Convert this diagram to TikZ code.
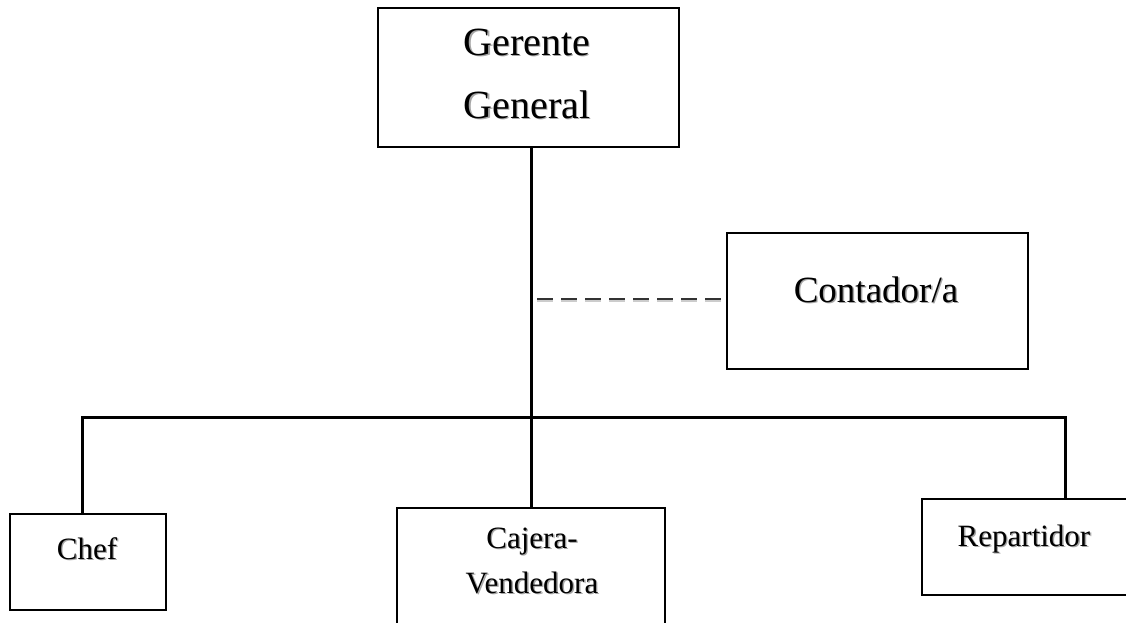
\documentclass[tikz,border=0pt]{standalone}
\usepackage{fontspec}
\setmainfont{Liberation Serif}
% text with a soft grey drop shadow
\newcommand\shtxt[1]{\makebox[0pt][l]{\hspace{1.3pt}\raisebox{-1.3pt}{\color{black!35}#1}}#1}
\begin{document}
\begin{tikzpicture}[x=1pt,y=-1pt,
  box/.style={draw, line width=2.4pt, inner sep=0pt, anchor=north west},
  link/.style={line width=3pt, line join=miter},
  lbl/.style={inner sep=0pt, anchor=base, align=center, font=\fontsize{31}{45}\selectfont},
  biglbl/.style={lbl, font=\fontsize{40}{63}\selectfont}]
\useasboundingbox (0,0) rectangle (1126,622);
\clip (0,0) rectangle (1126,622);

% boxes
\node[box, minimum width=301pt, minimum height=139pt] (gg)   at (377,7)   {};
\node[box, minimum width=301pt, minimum height=136pt] (cont) at (726,232) {};
\node[box, minimum width=156pt, minimum height=96pt]  (chef) at (9,513)   {};
\node[box, minimum width=268pt, minimum height=140pt] (caj)  at (396,507) {};
\node[box, minimum width=220pt, minimum height=96pt]  (rep)  at (921,498) {};

% labels (anchored at the baseline of their last line)
\node[biglbl] (ggt)   at (527,118) {\shtxt{Gerente}\\\shtxt{General}};
\node[biglbl, font=\fontsize{37}{45}\selectfont] (contt) at (876,302) {\shtxt{Contador/a}};
\node[lbl]    (cheft) at (87,559)  {\shtxt{Chef}};
\node[lbl]    (cajt)  at (532,593) {\shtxt{Cajera-}\\\shtxt{Vendedora}};
\node[lbl]    (rept)  at (1024,546) {\shtxt{Repartidor}};

% connection points on the bus
\coordinate (hub)  at (531,417);
\coordinate (busL) at (82,417);
\coordinate (busR) at (1065,417);
\coordinate (dl)   at (537,299);

% trunk and bus
\draw[link] (gg.south -| hub) -- (hub);
\draw[link] (chef.north -| busL) -- (busL) -- (busR) -- (rep.north -| busR);
\draw[link] (hub) -- (caj.north -| hub);

% advisory (dashed) link
\draw[gray!40, line width=2pt, dash pattern=on 16pt off 8pt] ([yshift=-2.2pt]dl) -- ([yshift=-2.2pt]dl -| cont.west);
\draw[black!80, line width=1.6pt, dash pattern=on 16pt off 8pt] (dl) -- (dl -| cont.west);
\end{tikzpicture}
\end{document}
